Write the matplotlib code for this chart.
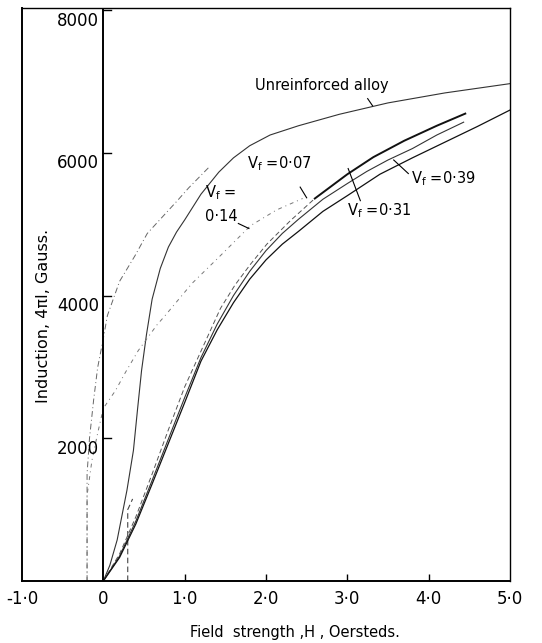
import numpy as np
import matplotlib
matplotlib.use("Agg")
import matplotlib.pyplot as plt

plt.rcParams['font.family'] = ['DejaVu Sans']
plt.rcParams['mathtext.fontset'] = 'dejavusans'

# field strength H (Oe) and induction 4piI (Gauss)
unreinf_H = [0, 0.08, 0.17, 0.29, 0.37, 0.42, 0.47, 0.53, 0.6, 0.7, 0.8, 0.9, 1.0, 1.2, 1.42, 1.6, 1.8, 2.05, 2.4, 2.9, 3.5, 4.2, 5.0]
unreinf_B = [0, 220, 575, 1270, 1830, 2400, 2950, 3450, 3950, 4380, 4680, 4890, 5060, 5420, 5730, 5930, 6100, 6250, 6380, 6540, 6700, 6840, 6970]

# return branch of the unreinforced alloy
unreinf_ret_H = [-0.2, -0.2, -0.17, -0.12, -0.07, 0.0, 0.05, 0.2, 0.39, 0.54, 0.66, 0.91, 1.05, 1.3]
unreinf_ret_B = [0, 1500, 2000, 2530, 2990, 3400, 3720, 4200, 4560, 4870, 5020, 5330, 5510, 5800]

vf07_H = [0, 0.2, 0.4, 0.6, 0.8, 1.0, 1.2, 1.44, 1.62, 1.81, 2.01, 2.3, 2.6, 3.0, 3.32, 3.7, 4.1, 4.45]
vf07_B = [0, 380, 900, 1500, 2120, 2720, 3220, 3820, 4150, 4440, 4720, 5050, 5360, 5700, 5940, 6170, 6380, 6550]

vf14_H = [-0.2, -0.2, -0.14, -0.07, 0.0, 0.15, 0.27, 0.43, 0.66, 0.76, 1.09, 1.44, 1.81, 2.13, 2.45]
vf14_B = [0, 1200, 1690, 2070, 2420, 2670, 2920, 3230, 3590, 3720, 4170, 4560, 4980, 5200, 5360]

vf14_init_H = [0.3, 0.3, 0.36]
vf14_init_B = [0, 1000, 1150]

vf31_H = [0, 0.2, 0.4, 0.6, 0.8, 1.0, 1.2, 1.4, 1.6, 1.8, 2.0, 2.2, 2.4, 2.7, 3.0, 3.24, 3.5, 3.8, 4.1, 4.43]
vf31_B = [0, 350, 840, 1410, 1990, 2570, 3130, 3600, 4000, 4340, 4630, 4870, 5070, 5350, 5570, 5740, 5900, 6060, 6250, 6430]

vf39_H = [0, 0.2, 0.4, 0.6, 0.8, 1.0, 1.2, 1.4, 1.6, 1.8, 2.0, 2.2, 2.4, 2.7, 3.0, 3.4, 3.8, 4.2, 4.6, 5.0]
vf39_B = [0, 330, 800, 1360, 1930, 2500, 3080, 3520, 3900, 4230, 4500, 4720, 4900, 5180, 5400, 5700, 5930, 6150, 6370, 6600]

fig = plt.figure(figsize=(5.42, 6.43), dpi=100)
ax = fig.add_axes([22 / 542, 1 - 581 / 643, 488 / 542, 573 / 643])
ax.set_xlim(-1, 5)
ax.set_ylim(0, 8030)

ax.plot(unreinf_H, unreinf_B, color='#333333', lw=0.8)
ax.plot(unreinf_ret_H, unreinf_ret_B, color='#666666', lw=0.7, ls=(0, (6, 3, 1, 3)))
ax.plot(vf07_H[:13], vf07_B[:13], color='#555555', lw=0.7, ls=(0, (5, 3)))
ax.plot(vf07_H[12:], vf07_B[12:], color='#111111', lw=1.4)
ax.plot(vf14_H, vf14_B, color='#777777', lw=0.7, ls=(0, (4, 4, 1, 4)))
ax.plot(vf14_init_H, vf14_init_B, color='#444444', lw=0.8, ls=(0, (5, 3)))
ax.plot(vf31_H, vf31_B, color='#333333', lw=0.8)
ax.plot(vf39_H, vf39_B, color='#111111', lw=0.9)

# vertical axis line at H = 0
ax.axvline(0, color='black', lw=1.4)

for s in ax.spines.values():
    s.set_linewidth(1.0)
ax.spines['left'].set_linewidth(1.4)
ax.spines['bottom'].set_linewidth(1.4)

ax.set_xticks([1, 2, 3, 4])
ax.set_xticklabels([])
ax.tick_params(axis='x', direction='in', length=5, width=1)
ax.set_yticks([])

xlabels = ['-1·0', '0', '1·0', '2·0', '3·0', '4·0', '5·0']
for v, lab in zip([-1, 0, 1, 2, 3, 4, 5], xlabels):
    ax.text(v, -130, lab, ha='center', va='top', fontsize=12)

for v in [2000, 4000, 6000, 8000]:
    ax.plot([0, 0.09], [v, v], color='black', lw=1)
    ax.text(-0.05, v - 20, str(v), ha='right', va='top', fontsize=12)

ax.text(-0.73, 3720, 'Induction, 4πI, Gauss.', rotation=90, ha='center', va='center', fontsize=11.5)
fig.text(295 / 542, 1 - 632 / 643, 'Field  strength ,H , Oersteds.', ha='center', va='center', fontsize=10.5)

ax.text(1.87, 6940, 'Unreinforced alloy', ha='left', va='center', fontsize=10.5)
ax.plot([3.25, 3.31], [6760, 6660], color='black', lw=0.8)

ax.text(1.77, 5850, 'V$_\\mathrm{f}$ =0·07', ha='left', va='center', fontsize=10.5)
ax.plot([2.42, 2.5], [5520, 5370], color='black', lw=0.8)

ax.text(1.25, 5440, 'V$_\\mathrm{f}$ =', ha='left', va='center', fontsize=10.5)
ax.text(1.25, 5110, '0·14', ha='left', va='center', fontsize=10.5)
ax.plot([1.66, 1.79], [5010, 4940], color='black', lw=0.8)

ax.text(3.78, 5640, 'V$_\\mathrm{f}$ =0·39', ha='left', va='center', fontsize=10.5)
ax.plot([3.57, 3.75], [5900, 5710], color='black', lw=0.8)

ax.text(3.0, 5190, 'V$_\\mathrm{f}$ =0·31', ha='left', va='center', fontsize=10.5)
ax.plot([3.01, 3.16], [5780, 5330], color='black', lw=0.8)

fig.savefig('out.png', dpi=100)
